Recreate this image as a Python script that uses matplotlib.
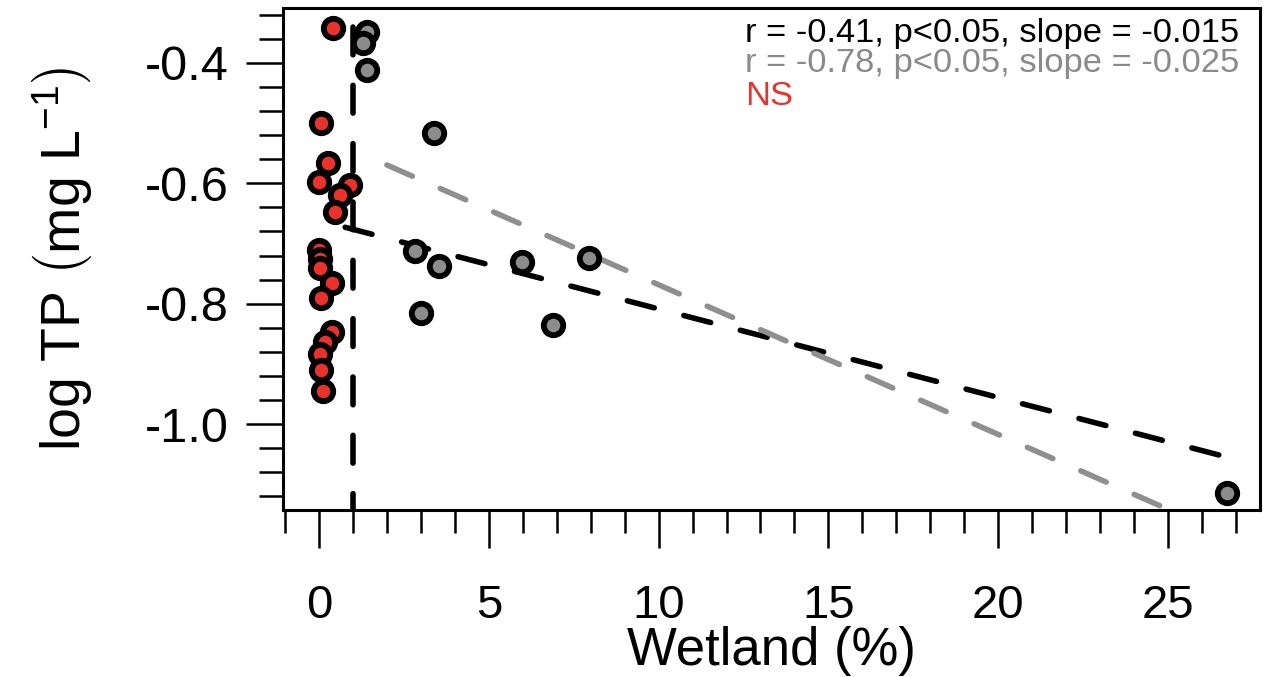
import numpy as np
import matplotlib
matplotlib.use("Agg")
import matplotlib.pyplot as plt

plt.rcParams["font.family"] = ["Liberation Sans", "DejaVu Sans"]
plt.rcParams["mathtext.fontset"] = "custom"
plt.rcParams["mathtext.rm"] = "Liberation Sans"
plt.rcParams["mathtext.it"] = "Liberation Sans:italic"
plt.rcParams["axes.unicode_minus"] = False

# === Data ===
# sites with wetland < 1 % (red, NS)
red_x = [0.42, 0.05, 0.27, 0.01, 0.91, 0.62, 0.47,
         0.01, 0.02, 0.03, 0.37, 0.05,
         0.37, 0.18, 0.03, 0.05, 0.13]
red_y = [-0.342, -0.500, -0.567, -0.597, -0.603, -0.619, -0.647,
         -0.710, -0.725, -0.740, -0.766, -0.790,
         -0.847, -0.863, -0.883, -0.910, -0.945]

# sites with wetland >= 1 % (grey)
grey_x = [1.41, 1.30, 1.41, 3.39, 2.83, 3.54, 3.00, 5.99, 6.90, 7.96, 26.74]
grey_y = [-0.348, -0.367, -0.412, -0.516, -0.713, -0.738, -0.816,
          -0.731, -0.836, -0.724, -1.115]

# regression lines (end points) and 1 % threshold
fit_all_x = [0.77, 26.74]
fit_all_y = [-0.673, -1.055]
fit_grey_x = [2.0, 26.74]
fit_grey_y = [-0.5695, -1.185]
threshold_x = 1.0
threshold_top = -0.34

stats_lines = ["r = -0.41, p<0.05, slope = -0.015",
               "r = -0.78, p<0.05, slope = -0.025",
               "NS"]

x_major = [0, 5, 10, 15, 20, 25]
y_major = [-1.0, -0.8, -0.6, -0.4]
y_labels = ["-1.0", "-0.8", "-0.6", "-0.4"]

RED = "#e8322b"
GREY = "#8c8c8c"
stats_colors = ["black", "#8a8a8a", RED]

# === Figure ===
W, H = 1268, 677
fig = plt.figure(figsize=(W / 100, H / 100), dpi=100)
left, right, top, bottom = 283, 1260, 8, 510
ax = fig.add_axes([left / W, 1 - bottom / H, (right - left) / W, (bottom - top) / H])

ax.set_xlim(-1.06, 27.71)
ax.set_ylim(-1.1429, -0.3086)

dash = (5, 5.5)
lw = 4.0
ax.plot(fit_all_x, fit_all_y, color="black", lw=lw, dashes=dash,
        dash_capstyle="round", zorder=2)
ax.plot(fit_grey_x, fit_grey_y, color="#8f8f8f", lw=lw, dashes=dash,
        dash_capstyle="round", zorder=2)
ax.plot([threshold_x, threshold_x], [threshold_top, -1.1429], color="black",
        lw=lw, dashes=dash, dash_capstyle="round", zorder=2)

ax.plot(red_x, red_y, "o", ms=14, mfc=RED, mec="black", mew=4.2, zorder=3)
ax.plot(grey_x, grey_y, "o", ms=14, mfc=GREY, mec="black", mew=4.2, zorder=3)

# axes styling
for sp in ax.spines.values():
    sp.set_linewidth(2.2)
ax.set_xticks(x_major)
ax.set_xticklabels([str(v) for v in x_major])
ax.set_xticks(np.arange(-1, 28, 1), minor=True)
ax.set_yticks(y_major)
ax.set_yticklabels(y_labels)
ax.set_yticks(np.arange(-1.12, -0.30, 0.04), minor=True)
ax.tick_params(axis="x", which="major", length=27, width=1.8, pad=26, labelsize=34)
ax.tick_params(axis="x", which="minor", length=16.5, width=1.8)
ax.tick_params(axis="y", which="major", length=27, width=1.8, pad=12, labelsize=35)
ax.tick_params(axis="y", which="minor", length=17.5, width=1.8)

# stats annotation
base_px = [42, 72, 105]
for txt, col, b in zip(stats_lines, stats_colors, base_px):
    ax.text((745 - left) / (right - left), (bottom - b) / (bottom - top), txt,
            transform=ax.transAxes, color=col, fontsize=24.8, ha="left", va="baseline")

fig.text(771 / W, 1 - 665 / H, "Wetland (%)", fontsize=38, ha="center", va="baseline")
fig.text(62 / W, 1 - 259 / H, r"log TP $\left(\mathrm{mg\ L^{-1}}\right)$",
         fontsize=40, rotation=90, ha="center", va="center")

fig.savefig("out.png", dpi=100)
